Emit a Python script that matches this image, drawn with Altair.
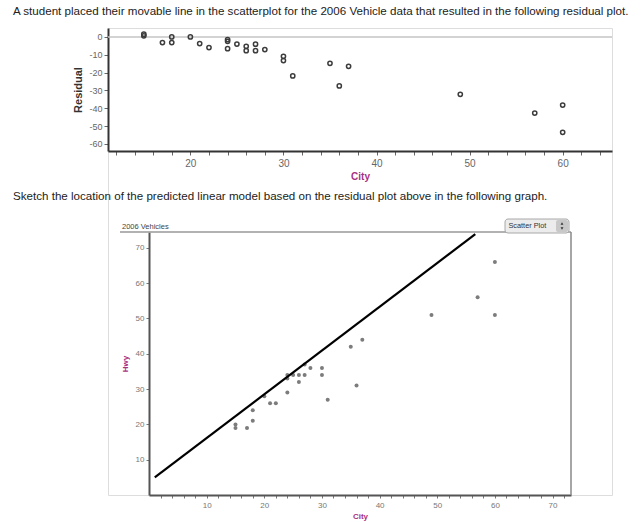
import altair as alt
import pandas as pd

# ---- data ----
res_city = [15, 15, 17, 18, 18, 20, 21, 22, 24, 24, 24, 25, 26, 26, 27, 27, 28,
            30, 30, 31, 35, 36, 37, 49, 57, 60, 60]
res_value = [1.5, 0.6, -3.2, 0, -3.2, 0, -3.7, -6, -1.5, -2.5, -6.6, -4, -5.3, -7.7,
             -4.1, -7.7, -7.1, -10.9, -13.3, -21.9, -14.8, -27.5, -16.5, -32.2,
             -42.7, -38.2, -53.5]

sc_city = [15, 15, 17, 18, 18, 20, 21, 22, 24, 24, 24, 25, 26, 26, 27, 27, 28,
           30, 30, 31, 35, 36, 37, 49, 57, 60, 60]
sc_hwy = [20, 19, 19, 24, 21, 28, 26, 26, 29, 33, 34, 34, 32, 34, 34, 37, 36,
          36, 34, 27, 42, 31, 44, 51, 56, 66, 51]

line_city = [1, 56.6]
line_hwy = [5, 73.9]

res_x_ticks = list(range(12, 65, 2))
res_y_ticks = [-60, -50, -40, -30, -20, -10, 0]
sc_x_ticks = list(range(2, 73, 2))
sc_y_ticks = [10, 20, 30, 40, 50, 60, 70]

title_top = ("A student placed their movable line in the scatterplot for the 2006 "
             "Vehicle data that resulted in the following residual plot.")
title_mid = ("Sketch the location of the predicted linear model based on the "
             "residual plot above in the following graph.")

FONT = "Liberation Sans"
MAGENTA = "#a8307f"
W, H = 504, 467

res_df = pd.DataFrame({"City": res_city, "Residual": res_value})
sc_df = pd.DataFrame({"City": sc_city, "Hwy": sc_hwy})
line_df = pd.DataFrame({"City": line_city, "Hwy": line_hwy})

res_xs = alt.Scale(domain=[11.15, 65.3], range=[0, W], nice=False, zero=False)
res_ys = alt.Scale(domain=[-64, 5], range=[123, 0], nice=False, zero=False)
sc_xs = alt.Scale(domain=[0, 73.2], range=[41, 463], nice=False, zero=False)
sc_ys = alt.Scale(domain=[0, 74.5], range=[H, 204], nice=False, zero=False)

# ---- residual plot ----
res_zero = alt.Chart(pd.DataFrame({"z": [0]})).mark_rule(
    color="#c4c4c4", strokeWidth=1.5
).encode(
    y=alt.Y("z:Q", scale=res_ys, axis=None),
    x=alt.value(0), x2=alt.value(W),
)

res_pts = alt.Chart(res_df).mark_point(
    filled=False, stroke="#3c3c3c", strokeWidth=1.5, size=18, opacity=1
).encode(
    x=alt.X("City:Q", scale=res_xs, axis=alt.Axis(
        orient="bottom", offset=123 - H, values=res_x_ticks,
        labelExpr="datum.value % 10 == 0 ? '' + datum.value : ''",
        title="City", titleColor=MAGENTA, titleFontWeight="bold", titleFontSize=10,
        titlePadding=3, labelColor="#666", labelFontSize=10, labelPadding=3,
        tickSize=4, tickColor="#666", domainColor="#333", domainWidth=2,
        grid=False, labelOverlap=False)),
    y=alt.Y("Residual:Q", scale=res_ys, axis=alt.Axis(
        orient="left", values=res_y_ticks, labelExpr="'' + datum.value",
        title="Residual", titleColor="#333", titleFontWeight="bold",
        titleFontSize=11, titlePadding=5, labelColor="#666", labelFontSize=9,
        labelPadding=2, tickSize=4, tickColor="#666", domainColor="#333",
        domainWidth=2, grid=False)),
)

# ---- scatter plot with predicted line ----
sc_pts = alt.Chart(sc_df).mark_circle(size=16, color="#7c7c7c", opacity=1).encode(
    x=alt.X("City:Q", scale=sc_xs, axis=alt.Axis(
        orient="bottom", values=sc_x_ticks,
        labelExpr="datum.value % 10 == 0 ? '' + datum.value : ''",
        title="City", titleColor=MAGENTA, titleFontWeight="bold", titleFontSize=8,
        titlePadding=3, labelColor="#777", labelFontSize=8, labelPadding=3,
        tickSize=3, tickColor="#777", domainColor="#555", domainWidth=2,
        grid=False, labelOverlap=False)),
    y=alt.Y("Hwy:Q", scale=sc_ys, axis=alt.Axis(
        orient="left", offset=-41, values=sc_y_ticks,
        title="Hwy", titleColor=MAGENTA, titleFontWeight="bold", titleFontSize=8,
        titlePadding=6, labelColor="#777", labelFontSize=8, labelPadding=2,
        tickSize=3, tickColor="#777", domainColor="#555", domainWidth=2,
        grid=False)),
)

sc_line = alt.Chart(line_df).mark_line(color="black", strokeWidth=2.2).encode(
    x=alt.X("City:Q", scale=sc_xs, axis=None),
    y=alt.Y("Hwy:Q", scale=sc_ys, axis=None),
)

frame_top = alt.Chart(pd.DataFrame({"a": [0]})).mark_rule(
    color="#999", strokeWidth=1.5).encode(
    x=alt.value(12), x2=alt.value(463), y=alt.value(204))
frame_right = alt.Chart(pd.DataFrame({"a": [0]})).mark_rule(
    color="#888", strokeWidth=1.5).encode(
    x=alt.value(463), y=alt.value(204), y2=alt.value(H))

# ---- texts and the dropdown button ----
def text_layer(txt, x, y, size, color="#222", align="left", font=FONT, weight="normal"):
    return alt.Chart(pd.DataFrame({"t": [txt]})).mark_text(
        align=align, baseline="middle", fontSize=size, color=color, font=font,
        fontWeight=weight).encode(text="t:N", x=alt.value(x), y=alt.value(y))

t1 = text_layer(title_top, -95, -16, 11.6)
t2 = text_layer(title_mid, -95, 169, 11.6)
t3 = text_layer("2006 Vehicles", 14, 199, 7.5, color="#444")

btn = alt.Chart(pd.DataFrame({"a": [0]})).mark_rect(
    fill="#ececec", stroke="#a8a8a8", strokeWidth=1, cornerRadius=3).encode(
    x=alt.value(397), x2=alt.value(461), y=alt.value(191), y2=alt.value(205))
spin = alt.Chart(pd.DataFrame({"a": [0]})).mark_rect(
    fill="#c8c8c8", cornerRadius=2).encode(
    x=alt.value(448), x2=alt.value(460), y=alt.value(192), y2=alt.value(204))
btn_txt = text_layer("Scatter Plot", 400.5, 198, 7.3, color="#333")
up = alt.Chart(pd.DataFrame({"a": [0]})).mark_point(
    shape="triangle-up", filled=True, color="#333", size=8, opacity=1).encode(
    x=alt.value(454), y=alt.value(195.5))
down = alt.Chart(pd.DataFrame({"a": [0]})).mark_point(
    shape="triangle-down", filled=True, color="#333", size=8, opacity=1).encode(
    x=alt.value(454), y=alt.value(200.5))

chart = alt.layer(
    res_zero, res_pts, sc_pts, sc_line, frame_top, frame_right,
    t1, t2, t3, btn, spin, btn_txt, up, down
).resolve_scale(x="independent", y="independent").properties(
    width=W, height=H,
    padding={"left": 108, "top": 28, "right": 32, "bottom": 27},
    autosize=alt.AutoSizeParams(type="none"),
).configure_view(stroke=None).configure_axis(
    labelFont=FONT, titleFont=FONT
).configure(background="white")

chart.save("out.html", embed_options={"renderer": "svg", "actions": False})
